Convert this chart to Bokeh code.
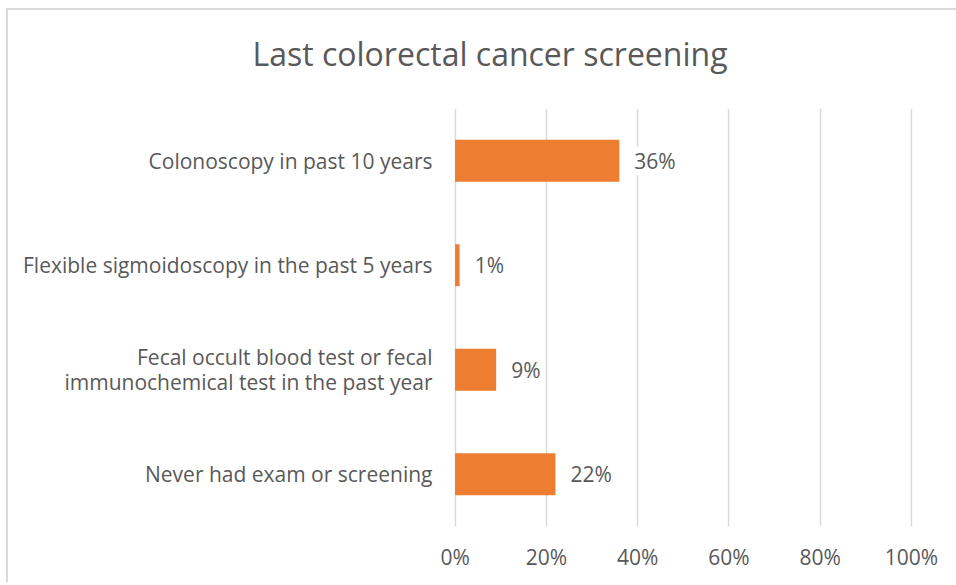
from bokeh.plotting import figure
from bokeh.models import (ColumnDataSource, LabelSet, Div, NumeralTickFormatter,
                          FixedTicker, FactorRange, Range1d)
from bokeh.layouts import column
from bokeh.core.properties import value
from bokeh.embed import file_html
from bokeh.resources import INLINE

# ---- data ----
categories = [
    "Colonoscopy in past 10 years",
    "Flexible sigmoidoscopy in the past 5 years",
    "Fecal occult blood test or fecal\nimmunochemical test in the past year",
    "Never had exam or screening",
]
values = [0.36, 0.01, 0.09, 0.22]
value_labels = ["36%", "1%", "9%", "22%"]
x_ticks = [0.0, 0.2, 0.4, 0.6, 0.8, 1.0]
title_text = "Last colorectal cancer screening"

FONT = "Open Sans"
GREY = "#595959"
BAR = "#ED7D31"
FS = "21px"
W = 944

src = ColumnDataSource(dict(cat=categories, val=values, lbl=value_labels))

title = Div(text=title_text, width=W, height=88,
            styles={"font-family": FONT, "font-size": "32px", "color": GREY,
                    "line-height": "44px", "text-align": "center",
                    "box-sizing": "border-box", "padding-left": "10px",
                    "padding-top": "17px", "white-space": "nowrap"})

p = figure(
    width=W, height=476,
    y_range=FactorRange(factors=list(reversed(categories))),
    x_range=Range1d(-0.01, 1.02),
    output_backend="svg", toolbar_location=None,
    min_border_left=442, min_border_right=W - 912,
    min_border_top=0, min_border_bottom=58,
)

p.hbar(y="cat", left=0, right="val", height=0.4, source=src,
       fill_color=BAR, line_color=None)

# value labels
p.add_layout(LabelSet(x="val", y="cat", text="lbl", source=src, x_offset=15,
                      text_align="left", text_baseline="middle",
                      text_font=value(FONT), text_font_size=FS, text_color=GREY,
                      background_fill_color="white"))

p.outline_line_color = None
p.ygrid.grid_line_color = None
p.xgrid.ticker = FixedTicker(ticks=x_ticks)
p.xgrid.grid_line_color = "#D9D9D9"
p.xgrid.grid_line_width = 1.5

p.xaxis.ticker = FixedTicker(ticks=x_ticks)
p.xaxis.formatter = NumeralTickFormatter(format="0%")
for ax in (p.xaxis[0], p.yaxis[0]):
    ax.axis_line_color = None
    ax.major_tick_line_color = None
    ax.minor_tick_line_color = None
    ax.major_label_text_font = FONT
    ax.major_label_text_font_size = FS
    ax.major_label_text_color = GREY
p.xaxis.major_label_standoff = 10
p.yaxis.major_label_standoff = 12
p.yaxis.major_label_text_line_height = 0.9

layout = column(title, p, spacing=0)
layout.styles = {"margin-left": "8px", "margin-top": "10px",
                 "box-shadow": "-2px -2px 0 0 #D9D9D9"}

open("out.html", "w").write(file_html(layout, INLINE))
